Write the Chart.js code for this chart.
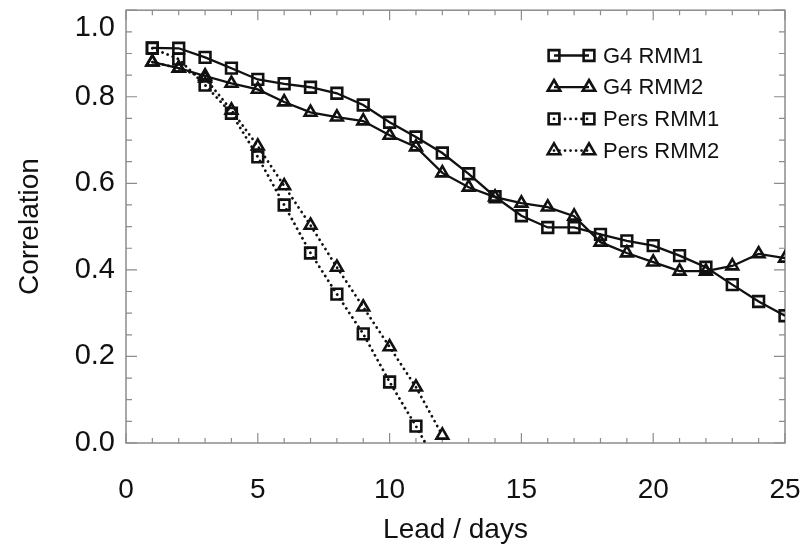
<!DOCTYPE html>
<html>
<head>
<meta charset="utf-8">
<title>Correlation vs lead</title>
<script src="https://cdn.jsdelivr.net/npm/chart.js@4.4.0/dist/chart.umd.min.js"></script>
<style>
  body { margin: 0; background: #fff; }
  #wrap { width: 809px; height: 547px; }
</style>
</head>
<body>
<div id="wrap"><canvas id="corrChart" width="809" height="547"></canvas></div>
<script>
// lead days (x) for each series
const leadDays = [1,2,3,4,5,6,7,8,9,10,11,12,13,14,15,16,17,18,19,20,21,22,23,24,25];
const persDays = [1,2,3,4,5,6,7,8,9,10,11,12];

// correlations
const g4Rmm1 = [0.913,0.912,0.891,0.866,0.840,0.830,0.822,0.808,0.781,0.741,0.707,0.670,0.622,0.569,0.525,0.498,0.498,0.482,0.467,0.456,0.433,0.406,0.366,0.327,0.294];
const g4Rmm2 = [0.880,0.866,0.848,0.831,0.817,0.788,0.764,0.753,0.744,0.711,0.684,0.624,0.591,0.568,0.554,0.545,0.524,0.464,0.439,0.418,0.397,0.397,0.409,0.437,0.427];
const persRmm1 = [0.912,0.887,0.827,0.762,0.661,0.550,0.439,0.344,0.252,0.141,0.039,-0.07];
const persRmm2 = [0.880,0.866,0.843,0.769,0.686,0.594,0.503,0.406,0.314,0.222,0.129,0.018];

const seriesLabels = ['G4 RMM1', 'G4 RMM2', 'Pers RMM1', 'Pers RMM2'];

// axis ticks
const xMajorTicks = [0,5,10,15,20,25];
const xMinorTicks = [0,1,2,3,4,5,6,7,8,9,10,11,12,13,14,15,16,17,18,19,20,21,22,23,24,25];
const yMajorTicks = [0,0.2,0.4,0.6,0.8,1.0];
const yMinorTicks = [0,0.05,0.1,0.15,0.2,0.25,0.3,0.35,0.4,0.45,0.5,0.55,0.6,0.65,0.7,0.75,0.8,0.85,0.9,0.95,1.0];

const FONT = '"Liberation Sans", Arial, Helvetica, sans-serif';
const INK = '#111';
const FRAME = '#8c8c8c';

function toPoints(xs, ys) {
  return ys.map((y, i) => ({ x: xs[i], y: y }));
}

function makeDataset(label, xs, ys, style, dotted) {
  return {
    label: label,
    data: toPoints(xs, ys),
    borderColor: INK,
    borderWidth: dotted ? 2.8 : 2.3,
    borderDash: dotted ? [0.01, 5.5] : [],
    borderCapStyle: dotted ? 'round' : 'butt',
    pointStyle: style,
    pointRadius: style === 'rect' ? 7.6 : 6.8,
    pointBorderWidth: 2.6,
    pointBorderColor: INK,
    pointBackgroundColor: 'rgba(0,0,0,0)',
    tension: 0
  };
}

// draw a hollow marker the same way as the chart does
function drawMarker(ctx, style, r, x, y) {
  ctx.beginPath();
  if (style === 'rect') {
    const s = r * Math.SQRT1_2;
    ctx.rect(x - s, y - s, 2 * s, 2 * s);
  } else {
    ctx.moveTo(x, y - r);
    ctx.lineTo(x + r * Math.sin(2 * Math.PI / 3), y - r * Math.cos(2 * Math.PI / 3));
    ctx.lineTo(x + r * Math.sin(4 * Math.PI / 3), y - r * Math.cos(4 * Math.PI / 3));
    ctx.closePath();
  }
  ctx.stroke();
}

// frame with inward ticks on all four sides
const frameTicks = {
  id: 'frameTicks',
  beforeDatasetsDraw(chart) {
    const ctx = chart.ctx;
    const a = chart.chartArea;
    const xs = chart.scales.x, ys = chart.scales.y;
    ctx.save();
    ctx.strokeStyle = FRAME;
    ctx.lineWidth = 1.5;
    ctx.strokeRect(a.left, a.top, a.right - a.left, a.bottom - a.top);
    ctx.lineWidth = 1.2;
    ctx.beginPath();
    xMinorTicks.forEach(v => {
      const px = xs.getPixelForValue(v);
      const len = xMajorTicks.includes(v) ? 10 : 5;
      ctx.moveTo(px, a.bottom); ctx.lineTo(px, a.bottom - len);
      ctx.moveTo(px, a.top); ctx.lineTo(px, a.top + len);
    });
    yMinorTicks.forEach(v => {
      const py = ys.getPixelForValue(v);
      const major = yMajorTicks.some(m => Math.abs(m - v) < 1e-6);
      const len = major ? 11 : 6;
      ctx.moveTo(a.left, py); ctx.lineTo(a.left + len, py);
      ctx.moveTo(a.right, py); ctx.lineTo(a.right - len, py);
    });
    ctx.stroke();
    ctx.restore();
  }
};

// legend: marker - line - marker, then label
const lineLegend = {
  id: 'lineLegend',
  afterDraw(chart) {
    const ctx = chart.ctx;
    const x1 = 554, x2 = 589, tx = 603;
    const top = 55.5, step = 31.7;
    ctx.save();
    chart.data.datasets.forEach((ds, i) => {
      const y = top + i * step;
      ctx.strokeStyle = INK;
      ctx.lineWidth = ds.borderWidth;
      ctx.setLineDash(ds.borderDash);
      ctx.lineCap = ds.borderCapStyle;
      ctx.beginPath();
      ctx.moveTo(x1, y); ctx.lineTo(x2, y);
      ctx.stroke();
      ctx.setLineDash([]);
      ctx.lineCap = 'butt';
      ctx.lineWidth = ds.pointBorderWidth;
      const r = ds.pointStyle === 'rect' ? 7.6 : 7.2;
      drawMarker(ctx, ds.pointStyle, r, x1, y);
      drawMarker(ctx, ds.pointStyle, r, x2, y);
      ctx.fillStyle = INK;
      ctx.font = '22px ' + FONT;
      ctx.textBaseline = 'middle';
      ctx.textAlign = 'left';
      ctx.fillText(ds.label, tx, y + 1);
    });
    ctx.restore();
  }
};

const ctx = document.getElementById('corrChart').getContext('2d');
const corrChart = new Chart(ctx, {
  type: 'line',
  data: {
    datasets: [
      makeDataset(seriesLabels[0], leadDays, g4Rmm1, 'rect', false),
      makeDataset(seriesLabels[1], leadDays, g4Rmm2, 'triangle', false),
      makeDataset(seriesLabels[2], persDays, persRmm1, 'rect', true),
      makeDataset(seriesLabels[3], persDays, persRmm2, 'triangle', true)
    ]
  },
  options: {
    responsive: false,
    animation: false,
    layout: { padding: { top: 10, right: 24, bottom: 0, left: 0 } },
    plugins: {
      legend: { display: false },
      tooltip: { enabled: false }
    },
    scales: {
      x: {
        type: 'linear',
        min: 0,
        max: 25,
        grid: { display: false, drawTicks: false },
        border: { display: false },
        ticks: {
          stepSize: 5,
          padding: 30,
          color: INK,
          font: { family: FONT, size: 28 },
          maxRotation: 0,
          callback: v => String(v)
        },
        title: {
          display: true,
          text: 'Lead / days',
          color: INK,
          font: { family: FONT, size: 28 },
          padding: { top: 0, bottom: 0 }
        },
        afterFit(scale) {
          scale.height = 104;
          scale.paddingLeft = 0;
          scale.paddingRight = 0;
        }
      },
      y: {
        min: 0,
        max: 1,
        grid: { display: false, drawTicks: false },
        border: { display: false },
        ticks: {
          stepSize: 0.2,
          padding: 11,
          color: INK,
          font: { family: FONT, size: 29 },
          callback: v => (Math.abs(v - 1) < 1e-6 ? ['', '1.0'] : v.toFixed(1))
        },
        title: {
          display: true,
          text: 'Correlation',
          color: INK,
          font: { family: FONT, size: 28 },
          padding: { top: 13, bottom: 0 }
        },
        afterFit(scale) {
          scale.width = 126;
          scale.paddingTop = 0;
          scale.paddingBottom = 0;
        }
      }
    }
  },
  plugins: [frameTicks, lineLegend]
});
</script>
</body>
</html>
